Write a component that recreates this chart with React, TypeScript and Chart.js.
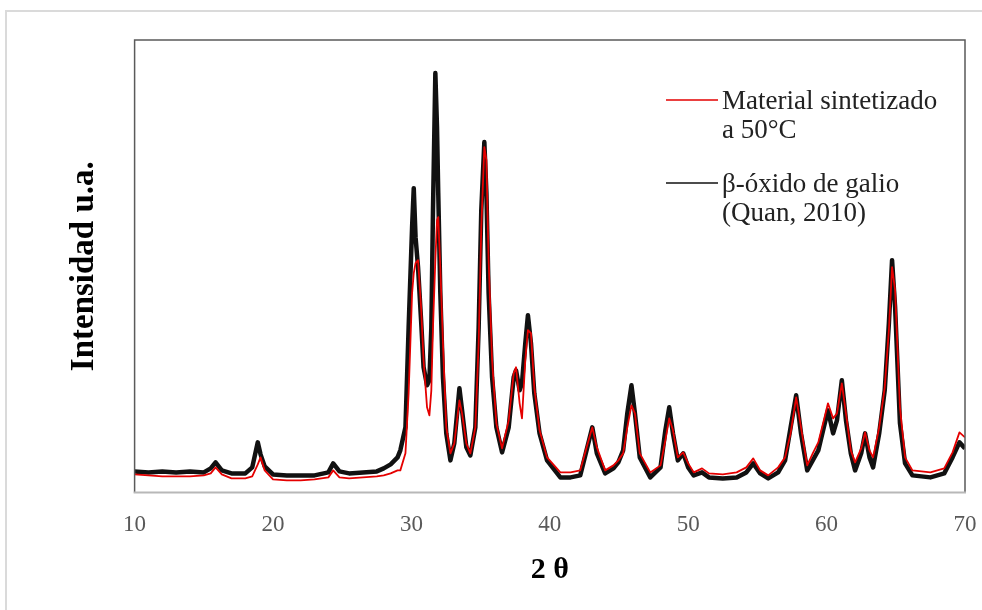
import React, { useEffect, useRef } from "react";
import { Chart, registerables } from "chart.js";

Chart.register(...registerables);

// 2θ positions (degrees)
const TWO_THETA = [
  10, 11, 12, 13, 14, 15, 15.5, 15.85, 16.3, 17,
  18, 18.5, 18.9, 19.1, 19.4, 20, 21, 22, 23, 24,
  24.35, 24.8, 25.5, 26.5, 27.5, 28, 28.5, 29, 29.2, 29.57,
  29.8, 30.05, 30.17, 30.3, 30.48, 30.7, 30.88, 31.13, 31.3, 31.44,
  31.56, 31.73, 31.85, 31.94, 32.09, 32.28, 32.52, 32.82, 33.1, 33.47,
  33.66, 33.97, 34.26, 34.62, 34.86, 35.05, 35.27, 35.42, 35.58, 35.83,
  36.14, 36.55, 37.03, 37.39, 37.56, 37.82, 37.99, 38.23, 38.42, 38.64,
  38.88, 39.26, 39.8, 40.76, 41.5, 42.2, 42.6, 43.07, 43.4, 44.0,
  44.6, 44.95, 45.3, 45.6, 45.9, 46.15, 46.5, 47.26, 48.0, 48.35,
  48.63, 48.9, 49.25, 49.64, 50.0, 50.4, 51.0, 51.5, 52.5, 53.5,
  54.2, 54.7, 55.2, 55.78, 56.5, 57.0, 57.4, 57.8, 58.15, 58.6,
  59.0, 59.4, 59.8, 60.1, 60.47, 60.75, 61.1, 61.4, 61.75, 62.06,
  62.5, 62.78, 63.1, 63.36, 63.8, 64.2, 64.5, 64.73, 64.95, 65.3,
  65.67, 66.2, 67.5, 68.5, 69.1, 69.6, 70,
];

// Material sintetizado a 50°C (red)
const SAMPLE_INTENSITY = [
  18, 17, 16, 16, 16, 17, 19, 25, 18, 14,
  14, 16, 28, 35, 22, 13, 12, 12, 13, 15,
  22, 15, 14, 15, 16, 17, 19, 22, 22, 39,
  99, 199, 219, 229, 232, 185, 132, 85, 77, 102,
  165, 232, 272, 275, 225, 149, 65, 39, 49, 92,
  79, 49, 39, 65, 149, 265, 345, 332, 232, 132,
  69, 44, 72, 119, 125, 89, 74, 132, 162, 159,
  105, 62, 35, 20, 20, 22, 42, 65, 45, 22,
  27, 32, 39, 65, 87, 79, 39, 20, 27, 52,
  74, 62, 35, 40, 29, 20, 24, 19, 18, 20,
  25, 34, 22, 17, 25, 35, 59, 95, 65, 27,
  39, 50, 72, 89, 74, 79, 109, 79, 42, 30,
  44, 60, 42, 35, 65, 105, 162, 225, 202, 85,
  35, 22, 20, 24, 40, 60, 55,
];

// β-óxido de galio (Quan, 2010) (black)
const REFERENCE_INTENSITY = [
  21, 20, 21, 20, 21, 20, 24, 30, 22, 19,
  19, 25, 50, 38, 26, 18, 17, 17, 17, 20,
  29, 21, 19, 20, 21, 24, 28, 35, 42, 65,
  165, 265, 304, 255, 225, 172, 125, 107, 112, 165,
  282, 419, 365, 299, 199, 115, 59, 32, 49, 104,
  82, 45, 37, 65, 165, 282, 350, 299, 199, 115,
  65, 40, 65, 115, 122, 102, 109, 149, 177, 149,
  99, 59, 32, 15, 15, 17, 39, 65, 39, 19,
  24, 30, 42, 79, 107, 79, 35, 15, 25, 62,
  85, 59, 32, 39, 25, 17, 20, 15, 14, 15,
  20, 29, 19, 14, 20, 32, 65, 97, 59, 22,
  32, 42, 65, 82, 59, 72, 112, 72, 39, 22,
  39, 59, 35, 25, 59, 102, 169, 232, 185, 69,
  29, 17, 15, 19, 35, 50, 44,
];

const X_TICKS = [10, 20, 30, 40, 50, 60, 70];
const SAMPLE_LABEL = ["Material sintetizado", "a 50°C"];
const REFERENCE_LABEL = ["β-óxido de galio", "(Quan, 2010)"];
const X_TITLE = "2 θ";
const Y_TITLE = "Intensidad u.a.";

const SERIF = "'Liberation Serif', 'Times New Roman', serif";

const framePlugin = {
  id: "frame",
  afterDraw(chart: any) {
    const { ctx, chartArea } = chart;
    const { left, right, top, bottom } = chartArea;
    ctx.save();
    ctx.strokeStyle = "#5a5a5a";
    ctx.lineWidth = 1.5;
    ctx.beginPath();
    ctx.moveTo(left, bottom);
    ctx.lineTo(left, top);
    ctx.lineTo(right, top);
    ctx.lineTo(right, bottom);
    ctx.stroke();
    ctx.strokeStyle = "#b8b8b8";
    ctx.lineWidth = 2;
    ctx.beginPath();
    ctx.moveTo(left - 1, bottom);
    ctx.lineTo(right + 1, bottom);
    ctx.stroke();
    ctx.restore();
  },
};

const legendPlugin = {
  id: "customLegend",
  afterDraw(chart: any) {
    const { ctx } = chart;
    const lineStart = 666;
    const lineEnd = 718;
    const textX = 722;
    const rows = [100, 183];
    ctx.save();
    ctx.font = `27px ${SERIF}`;
    ctx.textBaseline = "alphabetic";
    ctx.textAlign = "left";
    chart.data.datasets.forEach((ds: any, i: number) => {
      const y = rows[i];
      ctx.strokeStyle = ds.legendColor;
      ctx.lineWidth = 1.5;
      ctx.beginPath();
      ctx.moveTo(lineStart, y);
      ctx.lineTo(lineEnd, y);
      ctx.stroke();
      ctx.fillStyle = "#222222";
      (ds.legendLines as string[]).forEach((line, j) => {
        ctx.fillText(line, textX, y + 9 + j * 29);
      });
    });
    ctx.restore();
  },
};

export default function App() {
  const canvasRef = useRef<HTMLCanvasElement | null>(null);

  useEffect(() => {
    if (!canvasRef.current) return;
    const chart = new Chart(canvasRef.current, {
      type: "line",
      data: {
        datasets: [
          {
            label: SAMPLE_LABEL.join(" "),
            legendLines: SAMPLE_LABEL,
            legendColor: "#e30000",
            data: TWO_THETA.map((x, i) => ({ x, y: SAMPLE_INTENSITY[i] })),
            borderColor: "#e50000",
            borderWidth: 1.8,
            pointRadius: 0,
            tension: 0,
            borderJoinStyle: "round",
          } as any,
          {
            label: REFERENCE_LABEL.join(" "),
            legendLines: REFERENCE_LABEL,
            legendColor: "#111111",
            data: TWO_THETA.map((x, i) => ({ x, y: REFERENCE_INTENSITY[i] })),
            borderColor: "#111111",
            borderWidth: 4.5,
            pointRadius: 0,
            tension: 0,
            borderJoinStyle: "round",
          } as any,
        ],
      },
      options: {
        animation: false,
        responsive: true,
        maintainAspectRatio: false,
        layout: { padding: { left: 65, right: 17, top: 40, bottom: 20 } },
        plugins: {
          legend: { display: false },
          tooltip: { enabled: false },
        },
        scales: {
          x: {
            type: "linear",
            min: 10,
            max: 70,
            afterBuildTicks: (scale: any) => {
              scale.ticks = X_TICKS.map((v) => ({ value: v }));
            },
            afterFit: (scale: any) => {
              scale.paddingLeft = 0;
              scale.paddingRight = 0;
            },
            grid: { display: false, drawTicks: false },
            border: { display: false },
            ticks: {
              color: "#595959",
              padding: 19,
              font: { family: SERIF, size: 23, lineHeight: 1.2 },
            },
            title: {
              display: true,
              text: X_TITLE,
              color: "#000000",
              font: { family: SERIF, size: 30, weight: "bold", lineHeight: 0.8 },
              padding: { top: 0, bottom: 8 },
            },
          },
          y: {
            min: 0,
            max: 452,
            grid: { display: false, drawTicks: false },
            border: { display: false },
            ticks: { display: false },
            title: {
              display: true,
              text: Y_TITLE,
              color: "#000000",
              font: { family: SERIF, size: 33, weight: "bold", lineHeight: 1.2 },
              padding: { top: 0, bottom: 30 },
            },
          },
        },
      },
      plugins: [framePlugin, legendPlugin],
    });
    return () => chart.destroy();
  }, []);

  return (
    <div style={{ position: "absolute", left: 0, top: 0, width: 982, height: 610, overflow: "hidden", background: "#ffffff" }}>
      <div
        style={{
          position: "absolute",
          left: 5,
          top: 10,
          width: 1000,
          height: 640,
          border: "2px solid #dadada",
          boxSizing: "border-box",
        }}
      />
      <div style={{ position: "absolute", left: 0, top: 0, width: 982, height: 610 }}>
        <canvas ref={canvasRef} />
      </div>
    </div>
  );
}
